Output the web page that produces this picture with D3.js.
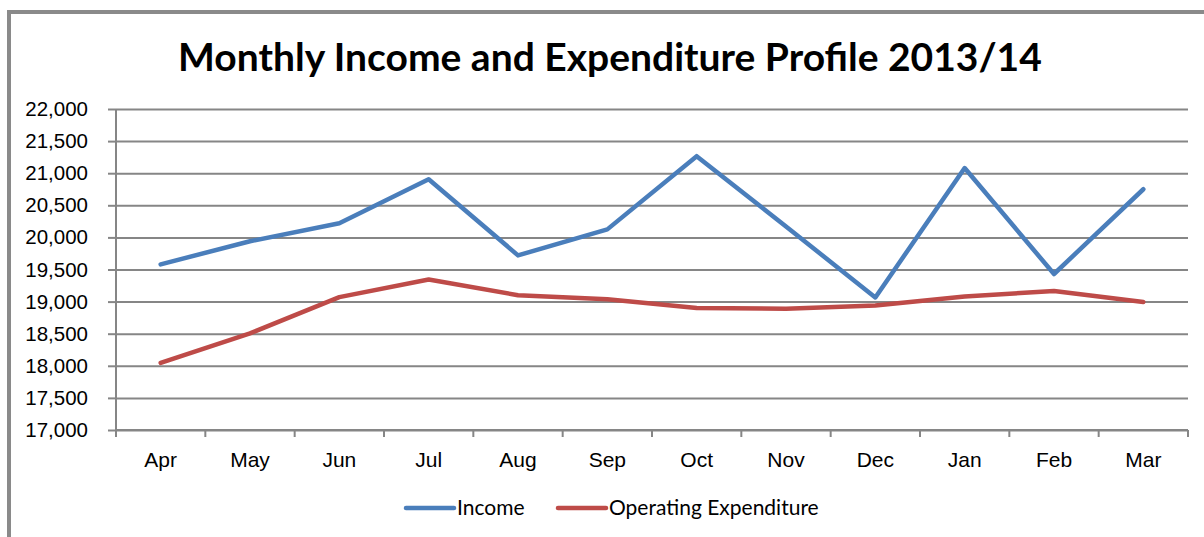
<!DOCTYPE html>
<html>
<head>
<meta charset="utf-8">
<script src="https://cdn.jsdelivr.net/npm/d3@7"></script>
<style>
  body { margin: 0; background: #fff; }
  svg { display: block; font-family: Lato, "Open Sans", sans-serif; }
  .axis path, .axis line { stroke: #868686; stroke-width: 2; }
  .axis text { fill: #000; }
  .axis--y text { font-size: 20.5px; }
  .axis--x text { font-size: 21px; }
  .grid line { stroke: #868686; stroke-width: 2; }
  .grid path { display: none; }
</style>
</head>
<body>
<script>
//==============================================================================
// DATA
//==============================================================================

const months = ['Apr', 'May', 'Jun', 'Jul', 'Aug', 'Sep', 'Oct', 'Nov', 'Dec', 'Jan', 'Feb', 'Mar'];
const income = [19580, 19940, 20220, 20905, 19720, 20125, 21265, 20170, 19065, 21080, 19430, 20750];
const expenditure = [18045, 18505, 19070, 19345, 19100, 19035, 18900, 18890, 18940, 19080, 19165, 18995];
const yTicks = [17000, 17500, 18000, 18500, 19000, 19500, 20000, 20500, 21000, 21500, 22000];
const seriesNames = ['Income', 'Operating Expenditure'];
const colors = ['#4A7EBB', '#BE4B48'];

//==============================================================================
// PARAMETERS
//==============================================================================

const W = 1204, H = 537;
const margin = { top: 109, right: 16, bottom: 107, left: 116 };
const width = W - margin.left - margin.right;
const height = H - margin.top - margin.bottom;

const svg = d3.select('body').append('svg')
  .attr('width', W)
  .attr('height', H);

// outer frame (only top and left edges are visible)
svg.append('path')
  .attr('d', `M9,${H} V12 H${W}`)
  .attr('fill', 'none')
  .attr('stroke', '#8a8a8a')
  .attr('stroke-width', 4);

// title
svg.append('text')
  .attr('x', 610)
  .attr('y', 71)
  .attr('text-anchor', 'middle')
  .style('font-size', '39px')
  .style('font-weight', 'bold')
  .text('Monthly Income and Expenditure Profile 2013/14');

const g = svg.append('g')
  .attr('transform', `translate(${margin.left},${margin.top})`);

const x = d3.scaleBand().domain(months).range([0, width]).padding(0);
const y = d3.scaleLinear().domain([17000, 22000]).range([height, 0]);

const line = d3.line()
  .x((d, i) => x(months[i]) + x.bandwidth() / 2)
  .y(d => y(d));

//==============================================================================
// DRAW
//==============================================================================

// gridlines
g.append('g')
  .attr('class', 'grid')
  .call(d3.axisLeft(y).tickValues(yTicks).tickSize(-width).tickFormat(''));

// y axis
g.append('g')
  .attr('class', 'axis axis--y')
  .call(d3.axisLeft(y).tickValues(yTicks).tickSize(8).tickPadding(20).tickFormat(d3.format(',')))
  .call(a => a.select('.domain').attr('d', `M0,${height}V0`));

// x axis: labels at band centres, ticks at band edges
g.append('g')
  .attr('class', 'axis axis--x')
  .attr('transform', `translate(0,${height})`)
  .call(d3.axisBottom(x).tickSize(0).tickPadding(22))
  .call(a => a.select('.domain').attr('d', `M0,0H${width}`));

g.append('g')
  .attr('class', 'axis')
  .attr('transform', `translate(0,${height})`)
  .selectAll('line')
  .data(months.concat(['end']))
  .enter()
  .append('line')
  .attr('x1', (d, i) => i * x.step())
  .attr('x2', (d, i) => i * x.step())
  .attr('y1', 0)
  .attr('y2', 7);

// series
[income, expenditure].forEach((s, i) => {
  g.append('path')
    .datum(s)
    .attr('fill', 'none')
    .attr('stroke', colors[i])
    .attr('stroke-width', 4.5)
    .attr('stroke-linejoin', 'round')
    .attr('stroke-linecap', 'round')
    .attr('d', line);
});

// legend
const legendX = [406, 558];
const legend = svg.append('g').attr('class', 'legend');
seriesNames.forEach((name, i) => {
  legend.append('line')
    .attr('x1', legendX[i]).attr('x2', legendX[i] + 48)
    .attr('y1', 508).attr('y2', 508)
    .attr('stroke', colors[i])
    .attr('stroke-width', 4.5)
    .attr('stroke-linecap', 'round');
  legend.append('text')
    .attr('x', legendX[i] + 51)
    .attr('y', 515)
    .style('font-size', '21px')
    .text(name);
});
</script>
</body>
</html>
